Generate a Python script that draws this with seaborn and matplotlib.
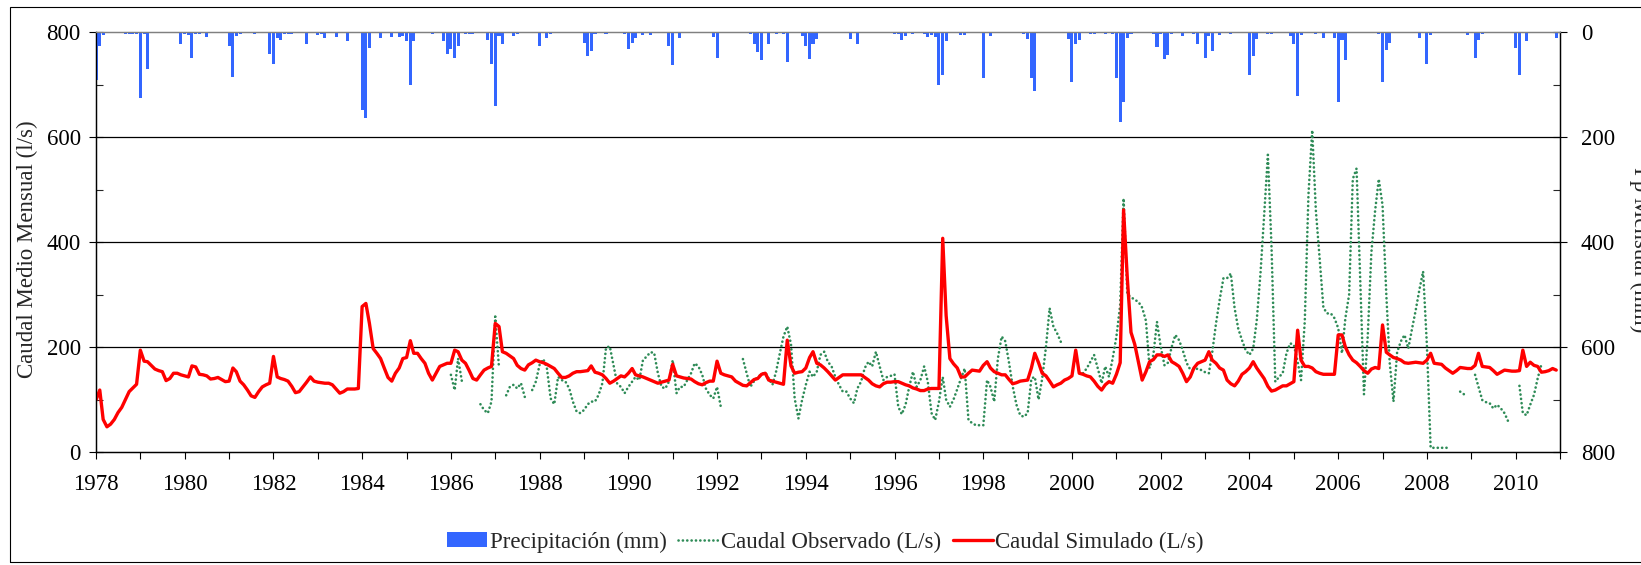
import numpy as np
import pandas as pd
import matplotlib
matplotlib.use("Agg")
import matplotlib.pyplot as plt
import matplotlib.dates as mdates
from matplotlib.ticker import FixedLocator, MultipleLocator
from matplotlib.lines import Line2D
from matplotlib.patches import Patch, Rectangle
import seaborn as sns

nan = np.nan

# ---------------- data (monthly, Jan 1978 - Dec 2010) ----------------
first_month = "1978-01-01"

caudal_simulado = [
    99, 118, 62, 48, 53, 62, 75, 85, 100, 115, 122, 129,          # 1978
    194, 173, 172, 165, 158, 155, 153, 136, 140, 150, 150, 147,   # 1979
    145, 143, 164, 162, 148, 147, 145, 139, 140, 142, 138, 134,   # 1980
    135, 160, 153, 135, 128, 118, 107, 104, 115, 124, 128, 131,   # 1981
    182, 143, 140, 138, 135, 125, 113, 115, 124, 133, 143, 135,   # 1982
    133, 132, 131, 131, 128, 120, 112, 115, 120, 120, 120, 121,   # 1983
    277, 283, 245, 197, 188, 178, 160, 142, 135, 150, 160, 178,   # 1984
    180, 212, 188, 188, 178, 169, 150, 137, 150, 163, 166, 169,   # 1985
    169, 194, 191, 175, 169, 155, 140, 137, 147, 156, 160, 163,   # 1986
    245, 239, 191, 188, 183, 178, 165, 159, 156, 166, 170, 175,   # 1987
    172, 170, 167, 163, 159, 150, 142, 142, 145, 150, 153, 153,   # 1988
    154, 155, 164, 152, 150, 147, 140, 131, 135, 140, 145, 143,   # 1989
    150, 159, 147, 145, 143, 140, 137, 134, 131, 133, 135, 137,   # 1990
    167, 145, 143, 141, 140, 139, 134, 130, 128, 132, 135, 135,   # 1991
    173, 150, 147, 145, 143, 135, 131, 127, 126, 132, 138, 140,   # 1992
    148, 150, 137, 135, 133, 131, 129, 213, 164, 150, 152, 153,   # 1993
    160, 180, 191, 169, 166, 160, 153, 145, 137, 142, 147, 147,   # 1994
    147, 147, 147, 147, 142, 137, 130, 126, 124, 130, 133, 133,   # 1995
    134, 134, 131, 128, 126, 122, 120, 117, 117, 120, 121, 121,   # 1996
    121, 407, 260, 178, 168, 160, 143, 143, 150, 156, 155, 154,   # 1997
    165, 172, 160, 153, 150, 147, 147, 138, 130, 132, 135, 136,   # 1998
    137, 160, 188, 170, 150, 145, 135, 124, 128, 131, 137, 140,   # 1999
    145, 194, 150, 148, 145, 143, 135, 125, 118, 128, 134, 131,   # 2000
    148, 170, 461, 330, 228, 205, 172, 137, 153, 172, 176, 185,   # 2001
    185, 182, 185, 172, 168, 163, 150, 134, 143, 160, 169, 172,   # 2002
    175, 191, 175, 169, 160, 156, 137, 130, 126, 135, 148, 153,   # 2003
    160, 172, 160, 150, 140, 125, 116, 118, 122, 126, 126, 130,   # 2004
    134, 232, 175, 163, 163, 160, 153, 150, 148, 148, 148, 148,   # 2005
    223, 223, 200, 185, 175, 170, 163, 155, 150, 158, 161, 159,   # 2006
    242, 190, 185, 180, 178, 175, 170, 169, 170, 171, 170, 169,   # 2007
    175, 188, 169, 168, 167, 160, 155, 150, 155, 161, 160, 159,   # 2008
    159, 165, 188, 163, 162, 161, 155, 148, 152, 156, 155, 154,   # 2009
    154, 155, 194, 163, 171, 165, 163, 152, 153, 155, 159, 156,   # 2010
]

caudal_observado = [nan] * 96 + [
    147, 118, 178, 135, nan, nan, nan, nan, 91, 80, 74, 96,       # 1986
    258, 160, nan, 108, 124, 128, 121, 131, 105, nan, 118, 134,   # 1987
    166, 177, 160, 102, 91, 143, 137, 134, 121, 96, 77, 74,       # 1988
    80, 91, 96, 96, 109, 131, 199, 201, 165, 130, 124, 112,       # 1989
    124, 134, 143, 137, 175, 182, 190, 189, 150, 124, 121, 134,   # 1990
    175, 112, 124, 124, 137, 150, 169, 163, 147, 121, 109, 102,   # 1991
    124, 86, nan, nan, nan, nan, nan, 177, 150, 124, 135, 143,    # 1992
    148, 152, 140, 128, 153, 188, 220, 239, 205, 102, 64, 99,     # 1993
    128, 153, 143, 153, 185, 191, 172, 163, 143, 128, 115, 115,   # 1994
    102, 93, 121, 134, 160, 172, 163, 191, 163, 137, 143, 145,    # 1995
    148, 86, 72, 90, 124, 153, 124, 137, 163, 134, 74, 61,        # 1996
    96, 143, 100, 86, 100, 120, 140, 159, 61, 55, 51, 51,         # 1997
    51, 137, 124, 96, 178, 220, 211, 170, 124, 90, 70, 67,        # 1998
    74, 140, 143, 100, 140, 200, 274, 239, 226, 210, nan, nan,    # 1999
    nan, nan, nan, 150, 159, 172, 185, 159, 131, 163, 143, 178,   # 2000
    220, 280, 483, 300, 295, 290, 286, 275, 250, 160, 185, 248,   # 2001
    200, 165, 170, 200, 223, 213, 194, 170, 157, 156, 159, 156,   # 2002
    152, 150, 190, 245, 290, 331, 331, 340, 274, 235, 213, 194,   # 2003
    185, 197, 250, 340, 450, 566, 390, 134, 143, 150, 188, 207,   # 2004
    204, 172, 137, 250, 490, 613, 460, 369, 275, 264, 264, 255,   # 2005
    236, 188, 255, 300, 520, 540, 330, 110, 220, 380, 460, 520,   # 2006
    470, 300, 170, 96, 190, 211, 223, 197, 235, 270, 310, 344,    # 2007
    204, 8, 8, 8, 8, 8, 8, nan, nan, 115, 110, nan,               # 2008
    nan, 147, 124, 99, 95, 93, 83, 90, 83, 74, 58, nan,           # 2009
    nan, 126, 74, 70, 90, 109, 140, 167, nan, nan, nan, nan,      # 2010
]

precipitacion = [
    91, 26, 6, 0, 0, 0, 0, 0, 3, 4, 4, 3,            # 1978
    126, 3, 70, 0, 0, 0, 0, 0, 0, 0, 2, 23,          # 1979
    3, 6, 49, 4, 3, 2, 9, 0, 0, 0, 0, 0,             # 1980
    26, 85, 7, 3, 0, 0, 0, 3, 0, 0, 0, 41,           # 1981
    60, 12, 15, 3, 3, 3, 0, 0, 0, 22, 0, 0,          # 1982
    6, 4, 12, 0, 0, 9, 0, 0, 17, 0, 0, 0,            # 1983
    149, 164, 31, 0, 0, 11, 0, 0, 9, 0, 10, 7,       # 1984
    18, 101, 18, 0, 0, 0, 0, 3, 0, 0, 18, 42,        # 1985
    33, 49, 26, 0, 3, 3, 3, 0, 0, 0, 15, 60,         # 1986
    141, 7, 22, 0, 0, 7, 3, 0, 0, 0, 0, 0,           # 1987
    26, 0, 12, 3, 0, 0, 0, 0, 0, 0, 0, 0,            # 1988
    20, 45, 36, 3, 0, 0, 3, 0, 0, 0, 0, 3,           # 1989
    32, 20, 11, 0, 5, 0, 5, 0, 0, 0, 0, 26,          # 1990
    63, 0, 12, 0, 0, 0, 0, 0, 0, 0, 0, 9,            # 1991
    49, 0, 0, 0, 0, 0, 0, 0, 0, 3, 23, 39,           # 1992
    53, 0, 23, 0, 3, 0, 3, 58, 0, 0, 0, 7,           # 1993
    26, 51, 23, 13, 0, 0, 0, 0, 0, 0, 0, 0,          # 1994
    13, 0, 22, 0, 0, 0, 0, 0, 0, 0, 0, 0,            # 1995
    3, 4, 15, 7, 0, 3, 0, 0, 3, 9, 6, 9,             # 1996
    101, 82, 17, 0, 0, 0, 6, 6, 0, 0, 0, 0,          # 1997
    88, 0, 7, 0, 0, 0, 0, 0, 0, 0, 0, 3,             # 1998
    13, 87, 112, 0, 0, 0, 0, 0, 0, 0, 0, 13,         # 1999
    95, 22, 15, 0, 0, 3, 3, 0, 0, 3, 0, 3,           # 2000
    88, 171, 134, 12, 3, 0, 0, 0, 0, 0, 3, 28,       # 2001
    3, 51, 43, 3, 0, 0, 7, 0, 0, 3, 22, 0,           # 2002
    49, 7, 37, 0, 5, 0, 0, 3, 0, 0, 0, 0,            # 2003
    81, 45, 13, 0, 0, 3, 3, 0, 0, 0, 0, 7,           # 2004
    23, 122, 5, 0, 0, 0, 3, 0, 11, 0, 0, 12,         # 2005
    134, 15, 53, 0, 0, 0, 0, 0, 0, 0, 0, 3,          # 2006
    95, 34, 20, 0, 0, 0, 0, 0, 0, 0, 11, 0,          # 2007
    60, 5, 0, 0, 0, 0, 0, 0, 0, 0, 0, 6,             # 2008
    0, 49, 15, 3, 0, 0, 0, 0, 0, 0, 0, 0,            # 2009
    31, 81, 0, 17, 0, 0, 0, 0, 0, 0, 0, 12,          # 2010
]

tick_years = list(range(1978, 2012))
left_ticks = [0, 200, 400, 600, 800]
right_ticks = [0, 200, 400, 600, 800]
legend_labels = ["Precipitación (mm)", "Caudal Observado (L/s)", "Caudal Simulado (L/s)"]
left_label = "Caudal Medio Mensual (l/s)"
right_label = "Pp Mensual (mm)"

# ---------------- styling ----------------
sns.set_theme(style="white")
plt.rcParams["font.family"] = ["Liberation Serif", "DejaVu Serif"]
FS = 16.5
plt.rcParams["font.size"] = FS

BLUE = "#3366FF"
GREEN = "#2E8B57"
RED = "#FF0000"
DOTS = (0, (0.05, 1.6))

W, H = 1641, 565
fig = plt.figure(figsize=(W / 100, H / 100), dpi=100)
ax = fig.add_axes([96 / W, 1 - 452 / H, 1464 / W, 420 / H])
ax2 = ax.twinx()

dates = pd.date_range(first_month, periods=len(caudal_simulado), freq="MS")
xnum = mdates.date2num(dates)

# precipitation bars (secondary, inverted axis)
sns.barplot(x=xnum, y=precipitacion, native_scale=True, ax=ax2, color=BLUE,
            width=0.9, errorbar=None, saturation=1, linewidth=0)

# observed flow (with gaps) -> separate segments as units
obs_arr = np.array(caudal_observado, dtype=float)
valid = ~np.isnan(obs_arr)
seg = np.cumsum(~valid)
df_obs = pd.DataFrame({"x": xnum, "y": obs_arr, "seg": seg})[valid]
sns.lineplot(data=df_obs, x="x", y="y", units="seg", estimator=None, ax=ax,
             color=GREEN, linewidth=1.9, linestyle=DOTS,
             dash_capstyle="round", zorder=3)

df_sim = pd.DataFrame({"x": xnum, "y": caudal_simulado})
sns.lineplot(data=df_sim, x="x", y="y", ax=ax, color=RED, linewidth=2.4,
             zorder=4)

# axes limits / ticks
x0 = mdates.date2num(pd.Timestamp("1978-01-01"))
x1 = mdates.date2num(pd.Timestamp("2011-01-01"))
ax.set_xlim(x0, x1)
ax.set_ylim(0, 800)
ax2.set_ylim(800, 0)

tick_pos = [mdates.date2num(pd.Timestamp(f"{y}-01-01")) for y in tick_years]
ax.xaxis.set_major_locator(FixedLocator(tick_pos))
ax.set_xticklabels([str(y) if y % 2 == 0 else "" for y in tick_years])
ax.tick_params(axis="x", which="major", direction="out", length=5, width=0.8,
               pad=11, labelsize=FS, colors="black", bottom=True)

ax.yaxis.set_major_locator(FixedLocator(left_ticks))
ax.yaxis.set_minor_locator(MultipleLocator(100))
ax.set_yticklabels([str(v) for v in left_ticks])
ax.tick_params(axis="y", which="major", direction="inout", length=10, width=0.8,
               pad=6, labelsize=FS, colors="black", left=True)
ax.tick_params(axis="y", which="minor", direction="in", length=5, width=0.8,
               left=True)

ax2.yaxis.set_major_locator(FixedLocator(right_ticks))
ax2.yaxis.set_minor_locator(MultipleLocator(100))
ax2.set_yticklabels([str(v) for v in right_ticks])
ax2.tick_params(axis="y", which="major", direction="inout", length=10, width=0.8,
                pad=10, labelsize=FS, colors="black", right=True)
ax2.tick_params(axis="y", which="minor", direction="in", length=5, width=0.8,
                right=True)

for h in [200, 400, 600]:
    ax.axhline(h, color="black", linewidth=0.9, zorder=1)

for a in (ax, ax2):
    a.set_xlabel("")
    a.set_ylabel("")
    for name, sp in a.spines.items():
        sp.set_color("black")
        sp.set_linewidth(0.9)
    a.spines["top"].set_color("#808080")
ax.set_facecolor("white")
ax2.patch.set_alpha(0)

fig.text(27 / W, 1 - 249 / H, left_label, rotation=90, ha="center", va="center",
         fontsize=FS)
fig.text(1640 / W, 1 - 250 / H, right_label, rotation=270, ha="center",
         va="center", fontsize=FS)

handles = [
    Patch(facecolor=BLUE, edgecolor="none"),
    Line2D([], [], color=GREEN, linewidth=1.9, linestyle=DOTS,
           dash_capstyle="round"),
    Line2D([], [], color=RED, linewidth=2.4),
]
fig.legend(handles, legend_labels, loc="center", bbox_to_anchor=(0.503, 1 - 542 / H),
           ncol=3, frameon=False, fontsize=FS, handlelength=1.75,
           handleheight=0.6, handletextpad=0.12, columnspacing=0.5)

fig.add_artist(Rectangle((10 / W, 3 / H), 1.2, (H - 10) / H, transform=fig.transFigure,
                         fill=False, edgecolor="black", linewidth=0.8))

fig.savefig("out.png", dpi=100)
